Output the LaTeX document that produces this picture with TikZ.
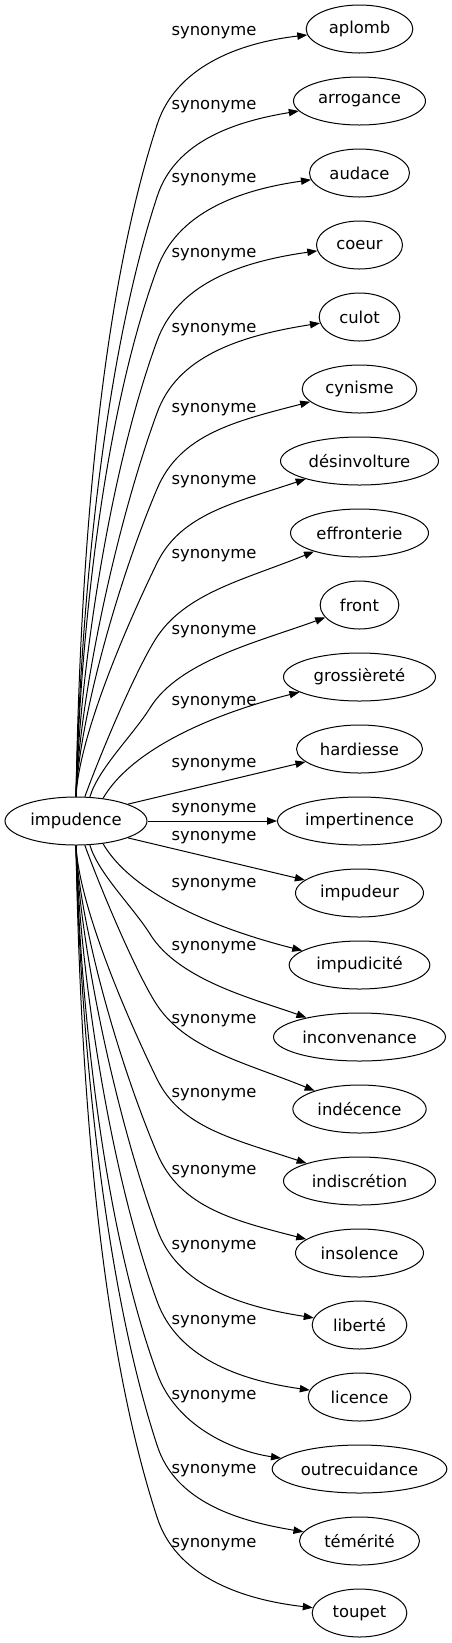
\documentclass[tikz,border=0pt]{standalone}
\usepackage{fontspec}
\setmainfont{DejaVu Sans}
\usetikzlibrary{shapes.geometric,arrows.meta}

\begin{document}
\begin{tikzpicture}[x=0.75pt, y=0.75pt,
  word/.style={ellipse, draw, line width=0.75pt, inner sep=0pt, minimum height=36pt, font=\fontsize{12.3}{14}\selectfont},
  syn/.style={line width=0.75pt, -{Triangle[length=7.5pt,width=5.5pt]}},
  lbl/.style={inner sep=0pt, font=\fontsize{12.3}{14}\selectfont}]
\useasboundingbox (0,0) rectangle (452,-1643);

% Source word
\node[word, minimum width=106.5pt] (impudence) at (76,-821) {impudence};

% Synonyms, top half
\node[word, minimum width=80pt] (aplomb) at (359.5,-29) {aplomb};
\node[word, minimum width=99pt] (arrogance) at (359.5,-101) {arrogance};
\node[word, minimum width=75pt] (audace) at (359.5,-173) {audace};
\node[word, minimum width=64.5pt] (coeur) at (359.5,-245) {coeur};
\node[word, minimum width=60.5pt] (culot) at (359.5,-317) {culot};
\node[word, minimum width=86pt] (cynisme) at (359.5,-389) {cynisme};
\node[word, minimum width=118.5pt] (desinvolture) at (359.5,-461) {désinvolture};
\node[word, minimum width=103.5pt] (effronterie) at (359.5,-533) {effronterie};
\node[word, minimum width=59pt] (front) at (359.5,-605) {front};
\node[word, minimum width=114pt] (grossierete) at (359.5,-677) {grossièreté};
\node[word, minimum width=94.5pt] (hardiesse) at (359.5,-749) {hardiesse};
\node[word, minimum width=123pt] (impertinence) at (359.5,-821) {impertinence};

% Synonyms, bottom half
\node[word, minimum width=96pt] (impudeur) at (359.5,-893) {impudeur};
\node[word, minimum width=105.5pt] (impudicite) at (359.5,-965) {impudicité};
\node[word, minimum width=129pt] (inconvenance) at (359.5,-1037) {inconvenance};
\node[word, minimum width=100pt] (indecence) at (359.5,-1109) {indécence};
\node[word, minimum width=114pt] (indiscretion) at (359.5,-1181) {indiscrétion};
\node[word, minimum width=96pt] (insolence) at (359.5,-1253) {insolence};
\node[word, minimum width=71pt] (liberte) at (359.5,-1325) {liberté};
\node[word, minimum width=77pt] (licence) at (359.5,-1397) {licence};
\node[word, minimum width=131pt] (outrecuidance) at (359.5,-1469) {outrecuidance};
\node[word, minimum width=90pt] (temerite) at (359.5,-1541) {témérité};
\node[word, minimum width=71pt] (toupet) at (359.5,-1613) {toupet};

% Edges going up
\draw[syn] (impudence.north) .. controls (79,-629) and (91,-327) .. (157,-125) .. controls (175,-68) and (237,-43) .. (aplomb) node[lbl] (l0) at (214,-33) {synonyme};
\draw[syn] (impudence.north) .. controls (79,-647) and (98,-377) .. (157,-197) .. controls (175,-140) and (238,-121) .. (arrogance) node[lbl] (l1) at (214,-107) {synonyme};
\draw[syn] (impudence.north) .. controls (79,-665) and (99,-427) .. (157,-269) .. controls (177,-213) and (238,-190) .. (audace) node[lbl] (l2) at (214,-180) {synonyme};
\draw[syn] (impudence.north) .. controls (79,-683) and (107,-478) .. (157,-341) .. controls (177,-285) and (238,-262) .. (coeur) node[lbl] (l3) at (214,-255) {synonyme};
\draw[syn] (impudence.north) .. controls (79,-701) and (115,-528) .. (157,-413) .. controls (177,-357) and (238,-336) .. (culot) node[lbl] (l4) at (214,-330) {synonyme};
\draw[syn] (impudence.north) .. controls (79,-720) and (118,-581) .. (157,-489) .. controls (180,-434) and (236,-421) .. (cynisme) node[lbl] (l5) at (214,-410) {synonyme};
\draw[syn] (impudence.north) .. controls (79,-738) and (123,-633) .. (157,-563) .. controls (181,-514) and (234,-503) .. (desinvolture) node[lbl] (l6) at (214,-482) {synonyme};
\draw[syn] (impudence.70) .. controls (100,-755) and (134,-674) .. (155,-640) .. controls (184,-593) and (244,-580) .. (effronterie) node[lbl] (l7) at (214,-556) {synonyme};
\draw[syn] (impudence.60) .. controls (98,-769) and (133,-735) .. (150,-708) .. controls (179,-661) and (258,-642) .. (front) node[lbl] (l8) at (214,-632) {synonyme};
\draw[syn] (impudence.40) .. controls (130,-752) and (205,-716) .. (grossierete) node[lbl] (l9) at (214,-703) {synonyme};
\draw[syn] (impudence.18) -- (hardiesse) node[lbl] (l10) at (214,-765) {synonyme};
\draw[syn] (impudence) -- (impertinence) node[lbl] (l11) at (214,-810) {synonyme};

% Edges going down
\draw[syn] (impudence.-18) -- (impudeur) node[lbl] (l12) at (214,-838) {synonyme};
\draw[syn] (impudence.-40) .. controls (130,-890) and (205,-926) .. (impudicite) node[lbl] (l13) at (214,-885) {synonyme};
\draw[syn] (impudence.-60) .. controls (98,-873) and (133,-907) .. (150,-934) .. controls (179,-981) and (258,-1000) .. (inconvenance) node[lbl] (l14) at (214,-948) {synonyme};
\draw[syn] (impudence.-70) .. controls (100,-887) and (134,-968) .. (155,-1002) .. controls (184,-1049) and (244,-1062) .. (indecence) node[lbl] (l15) at (214,-1021) {synonyme};
\draw[syn] (impudence.south) .. controls (79,-904) and (123,-1009) .. (157,-1079) .. controls (181,-1128) and (234,-1139) .. (indiscretion) node[lbl] (l16) at (214,-1095) {synonyme};
\draw[syn] (impudence.south) .. controls (79,-922) and (118,-1061) .. (157,-1153) .. controls (180,-1208) and (236,-1221) .. (insolence) node[lbl] (l17) at (214,-1172) {synonyme};
\draw[syn] (impudence.south) .. controls (79,-941) and (115,-1114) .. (157,-1229) .. controls (177,-1285) and (238,-1306) .. (liberte) node[lbl] (l18) at (214,-1247) {synonyme};
\draw[syn] (impudence.south) .. controls (79,-959) and (107,-1164) .. (157,-1301) .. controls (177,-1357) and (238,-1380) .. (licence) node[lbl] (l19) at (214,-1322) {synonyme};
\draw[syn] (impudence.south) .. controls (79,-977) and (99,-1215) .. (157,-1373) .. controls (177,-1429) and (238,-1452) .. (outrecuidance) node[lbl] (l20) at (214,-1397) {synonyme};
\draw[syn] (impudence.south) .. controls (79,-995) and (98,-1265) .. (157,-1445) .. controls (175,-1502) and (238,-1521) .. (temerite) node[lbl] (l21) at (214,-1471) {synonyme};
\draw[syn] (impudence.south) .. controls (79,-1013) and (91,-1315) .. (157,-1517) .. controls (175,-1574) and (237,-1599) .. (toupet) node[lbl] (l22) at (214,-1545) {synonyme};
\end{tikzpicture}
\end{document}
